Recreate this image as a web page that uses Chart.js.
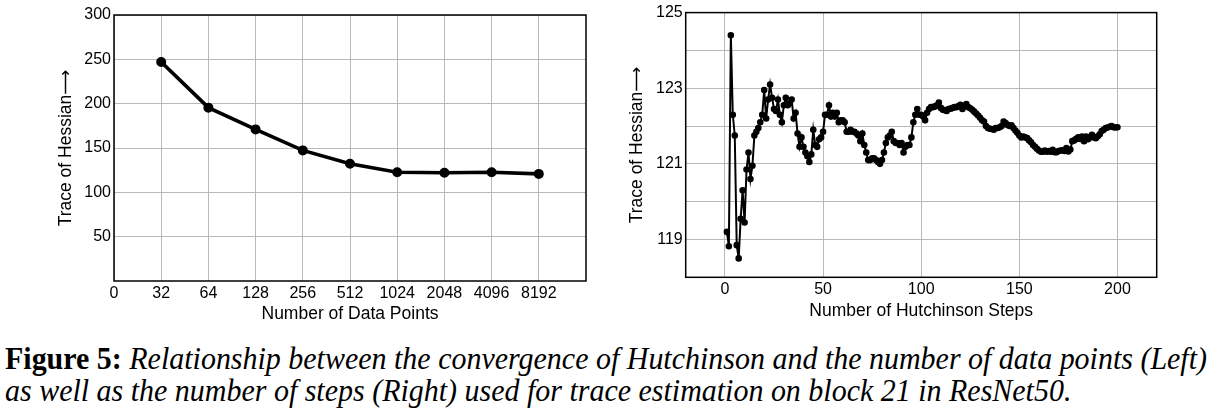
<!DOCTYPE html>
<html>
<head>
<meta charset="utf-8">
<script src="https://cdn.jsdelivr.net/npm/chart.js@4.4.1/dist/chart.umd.min.js"></script>
<style>
  html, body { margin: 0; padding: 0; background: #fff; }
  body { width: 1212px; height: 412px; position: relative; overflow: hidden; }
  .chartbox { position: absolute; top: 0; height: 330px; }
  #leftBox { left: 0; width: 600px; }
  #rightBox { left: 600px; width: 612px; }
  .cap { position: absolute; left: 5px; white-space: nowrap; font-family: "Liberation Serif", "Times New Roman", serif;
         font-size: 31px; line-height: 30px; color: #000; transform-origin: 0 0; }
  .cap b { font-weight: bold; font-style: normal; }
  .cap i { font-style: italic; }
</style>
</head>
<body>
<div id="leftBox" class="chartbox"><canvas id="leftChart" width="600" height="330"></canvas></div>
<div id="rightBox" class="chartbox"><canvas id="rightChart" width="612" height="330"></canvas></div>
<div id="cap1" class="cap" style="top:344px"><b>Figure 5:</b> <i>Relationship between the convergence of Hutchinson and the number of data points (Left)</i></div>
<div id="cap2" class="cap" style="top:376px"><i>as well as the number of steps (Right) used for trace estimation on block 21 in ResNet50.</i></div>
<script>
// ---------------- data ----------------
const dataPointCounts = ['32', '64', '128', '256', '512', '1024', '2048', '4096', '8192'];
const traceByDataPoints = [247, 195.5, 171, 147.3, 132.2, 122.7, 122.1, 122.7, 120.8];
const leftXTickLabels = ['0', '32', '64', '128', '256', '512', '1024', '2048', '4096', '8192'];
const leftYTicks = [50, 100, 150, 200, 250, 300];

const hutchinsonTrace = [
  119.2, 118.82, 124.4, 122.3, 121.75, 118.85, 118.5, 119.55, 120.3, 119.45,
  120.85, 121.3, 120.6, 120.95, 121.75, 121.85, 121.95, 122.1, 122.3, 122.95,
  122.2, 122.7, 123.1, 122.75, 122.45, 122.4, 122.7, 122.3, 122.1, 122.55,
  122.75, 122.55, 122.6, 122.7, 122.2, 122.35, 121.8, 121.45, 121.7, 121.45,
  121.3, 121.2, 121.05, 121.25, 121.9, 121.5, 121.45, 121.65, 121.7, 121.85,
  122.3, 122.3, 122.55, 122.25, 122.35, 122.25, 122.35, 122.1, 122.15, 122.15,
  122.1, 121.85, 121.85, 121.9, 121.85, 121.85, 121.8, 121.75, 121.6, 121.8,
  121.5, 121.3, 121.1, 121.1, 121.15, 121.15, 121.1, 121.05, 121.0, 121.1,
  121.3, 121.55, 121.7, 121.75, 121.85, 121.6, 121.55, 121.55, 121.5, 121.55,
  121.3, 121.45, 121.5, 121.5, 121.7, 122.1, 122.3, 122.45, 122.3, 122.3,
  122.25, 122.15, 122.35, 122.45, 122.5, 122.5, 122.52, 122.55, 122.62, 122.48,
  122.43, 122.42, 122.4, 122.45, 122.46, 122.48, 122.5, 122.5, 122.53, 122.56,
  122.45, 122.53, 122.58, 122.5, 122.47, 122.43, 122.38, 122.33, 122.28, 122.22,
  122.15, 122.12, 122.0, 121.95, 121.93, 121.92, 121.9, 121.95, 121.95, 121.97,
  122.0, 122.12, 122.08, 122.03, 122.0, 122.02, 121.95, 121.88, 121.82, 121.75,
  121.7, 121.72, 121.7, 121.68, 121.62, 121.57, 121.5, 121.45, 121.4, 121.35,
  121.32, 121.32, 121.35, 121.32, 121.34, 121.32, 121.37, 121.31, 121.31, 121.34,
  121.35, 121.36, 121.34, 121.42, 121.33, 121.38, 121.6, 121.62, 121.66, 121.7,
  121.66, 121.72, 121.6, 121.72, 121.65, 121.7, 121.77, 121.7, 121.68, 121.73,
  121.78, 121.87, 121.9, 121.95, 121.96, 121.98, 122.0, 121.97, 121.96, 121.97
];
const rightXTicks = [0, 50, 100, 150, 200];
const rightYGridTicks = [118, 119, 120, 121, 122, 123, 124, 125];
const rightYLabelTicks = [119, 121, 123, 125];

// ---------------- styling helpers ----------------
const FONT = { family: '"Liberation Sans", Arial, sans-serif', size: 16 };
const TITLE_FONT = { family: '"Liberation Sans", "DejaVu Sans", Arial, sans-serif', size: 17.5 };
const GRID = '#b9b9b9';
const Y_TITLE = 'Trace of Hessian\u27F6';

const framePlugin = {
  id: 'frame',
  afterDatasetsDraw(chart) {
    const { ctx, chartArea: a } = chart;
    ctx.save();
    ctx.strokeStyle = '#000';
    ctx.lineWidth = 1.5;
    ctx.strokeRect(a.left, a.top, a.right - a.left, a.bottom - a.top);
    ctx.restore();
  }
};

function setTicks(values) {
  return (scale) => { scale.ticks = values.map(v => ({ value: v })); };
}

// ---------------- left chart ----------------
new Chart(document.getElementById('leftChart'), {
  type: 'line',
  data: {
    datasets: [{
      data: traceByDataPoints.map((v, i) => ({ x: i + 1, y: v })),
      borderColor: '#000', backgroundColor: '#000',
      borderWidth: 3.6, pointRadius: 3.2, pointHoverRadius: 3.2,
      tension: 0, clip: false
    }]
  },
  options: {
    responsive: false, animation: false, events: [],
    layout: { padding: { top: 15, right: 14, left: 0, bottom: 0 } },
    plugins: { legend: { display: false }, tooltip: { enabled: false } },
    scales: {
      x: {
        type: 'linear', min: 0, max: 10,
        afterBuildTicks: setTicks(leftXTickLabels.map((_, i) => i)),
        afterFit(s) { s.height = 49; },
        grid: { color: GRID, drawTicks: false, lineWidth: 1 },
        border: { display: false },
        ticks: { color: '#000', font: FONT, padding: 3, maxRotation: 0, autoSkip: false,
                 callback: (v) => leftXTickLabels[v] ?? '' },
        title: { display: true, text: 'Number of Data Points', color: '#000', font: TITLE_FONT,
                 padding: { top: 0, bottom: 5.5 } }
      },
      y: {
        min: 0, max: 300,
        afterBuildTicks: setTicks(leftYTicks),
        afterFit(s) { s.width = 114; },
        grid: { color: GRID, drawTicks: false, lineWidth: 1 },
        border: { display: false },
        ticks: { color: '#000', font: FONT, padding: 3 },
        title: { display: true, text: Y_TITLE, color: '#000', font: TITLE_FONT,
                 padding: { top: 56, bottom: 0 } }
      }
    }
  },
  plugins: [framePlugin]
});

// ---------------- right chart ----------------
new Chart(document.getElementById('rightChart'), {
  type: 'line',
  data: {
    datasets: [{
      data: hutchinsonTrace.map((v, i) => ({ x: i + 1, y: v })),
      borderColor: '#000', backgroundColor: '#000',
      borderWidth: 2, pointRadius: 2.3, pointHoverRadius: 2.3,
      tension: 0, clip: false
    }]
  },
  options: {
    responsive: false, animation: false, events: [],
    layout: { padding: { top: 11, right: 55.3, left: 0, bottom: 0 } },
    plugins: { legend: { display: false }, tooltip: { enabled: false } },
    scales: {
      x: {
        type: 'linear', min: -20, max: 220,
        afterBuildTicks: setTicks(rightXTicks),
        afterFit(s) { s.height = 52.7; },
        grid: { color: GRID, drawTicks: false, lineWidth: 1 },
        border: { display: false },
        ticks: { color: '#000', font: FONT, padding: 3, maxRotation: 0, autoSkip: false },
        title: { display: true, text: 'Number of Hutchinson Steps', color: '#000', font: TITLE_FONT,
                 padding: { top: 0, bottom: 8.5 } }
      },
      y: {
        min: 118, max: 125,
        afterBuildTicks: setTicks(rightYGridTicks),
        afterFit(s) { s.width = 85.7; },
        grid: { color: GRID, drawTicks: false, lineWidth: 1 },
        border: { display: false },
        ticks: { color: '#000', font: FONT, padding: 3,
                 callback: (v) => rightYLabelTicks.includes(v) ? String(v) : '' },
        title: { display: true, text: Y_TITLE, color: '#000', font: TITLE_FONT,
                 padding: { top: 26.5, bottom: 0 } }
      }
    }
  },
  plugins: [framePlugin]
});

// ---------------- caption fit ----------------
(function fitCaption() {
  const c1 = document.getElementById('cap1');
  const c2 = document.getElementById('cap2');
  const w = c1.getBoundingClientRect().width;
  const k = 1202 / w;
  c1.style.transform = 'scaleX(' + k + ')';
  c2.style.transform = 'scaleX(' + k + ')';
})();
</script>
</body>
</html>
